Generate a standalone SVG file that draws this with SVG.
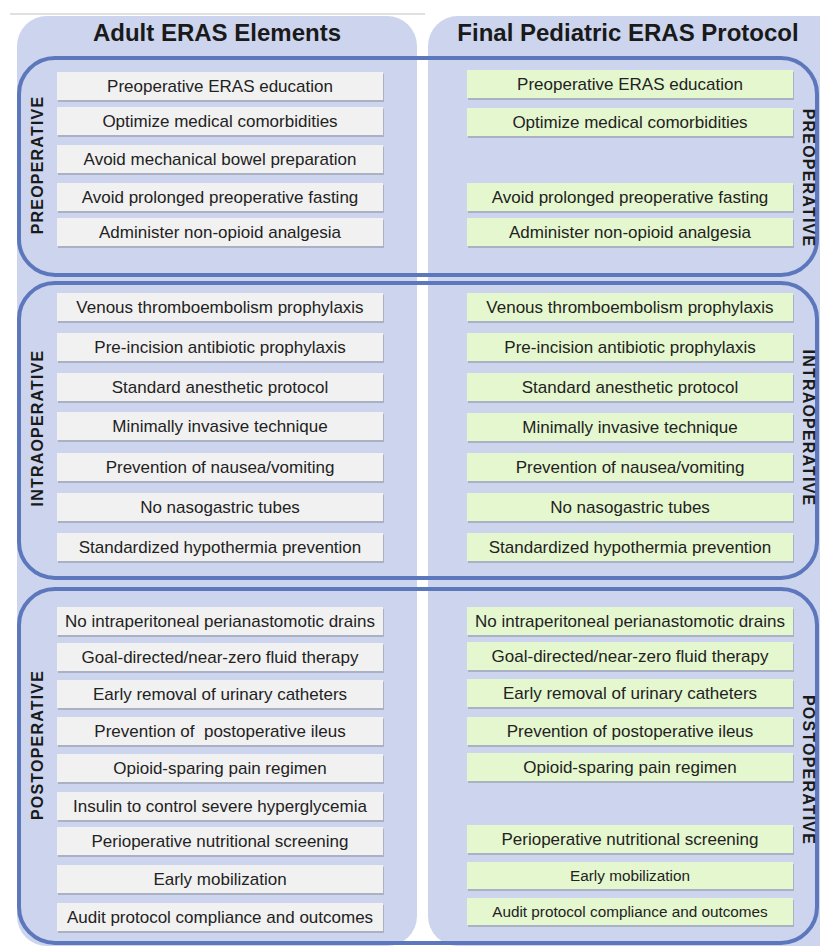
<svg xmlns="http://www.w3.org/2000/svg" width="820" height="948" viewBox="0 0 820 948">
<defs>
<style>
.col{fill:#ccd5ed;}
.band{fill:none;stroke:#5d77bd;stroke-width:4;}
.sh{fill:#8d93a0;opacity:0.55;}
.bl{fill:#f1f1f1;}
.bg{fill:#e5f7cf;}
.t{font-family:"Liberation Sans",Arial,sans-serif;font-size:17px;fill:#222;text-anchor:middle;}
.ts{font-size:15.3px;}
.h{font-family:"Liberation Sans",Arial,sans-serif;font-size:24px;font-weight:bold;fill:#1a1a1a;text-anchor:middle;}
.v{font-family:"Liberation Sans",Arial,sans-serif;font-size:16px;font-weight:bold;fill:#1a1a1a;text-anchor:middle;letter-spacing:1.2px;}
</style>
</defs>
<rect width="820" height="948" fill="#ffffff"/>
<line x1="10" y1="14" x2="425" y2="14" stroke="#d6d6d6" stroke-width="1.5"/>
<g id="columns">
<rect class="col" x="17" y="16" width="400" height="930" rx="30"/>
<rect class="col" x="428" y="16" width="420" height="930" rx="30"/>
</g>
<g id="headers">
<text class="h" x="217" y="41">Adult ERAS Elements</text>
<text class="h" x="628" y="41">Final Pediatric ERAS Protocol</text>
</g>
<g id="bands">
<rect class="band" x="19" y="58" width="798" height="217" rx="36"/>
<rect class="band" x="19" y="283" width="798" height="295" rx="36"/>
<rect class="band" x="19" y="589" width="798" height="354" rx="36"/>
</g>
<g id="phase-labels">
<text class="v" transform="translate(43,165) rotate(-90)">PREOPERATIVE</text>
<text class="v" transform="translate(43,428) rotate(-90)">INTRAOPERATIVE</text>
<text class="v" transform="translate(43,745) rotate(-90)">POSTOPERATIVE</text>
<text class="v" transform="translate(803,178) rotate(90)">PREOPERATIVE</text>
<text class="v" transform="translate(803,428) rotate(90)">INTRAOPERATIVE</text>
<text class="v" transform="translate(803,770) rotate(90)">POSTOPERATIVE</text>
</g>
<g id="adult-pre">
<g id="a1"><rect class="sh" x="58" y="74" width="326" height="28"/><rect class="bl" x="57" y="72" width="326" height="28"/><text class="t" x="220" y="92">Preoperative ERAS education</text></g>
<g id="a2"><rect class="sh" x="58" y="109" width="326" height="28"/><rect class="bl" x="57" y="107" width="326" height="28"/><text class="t" x="220" y="127">Optimize medical comorbidities</text></g>
<g id="a3"><rect class="sh" x="58" y="147" width="326" height="28"/><rect class="bl" x="57" y="145" width="326" height="28"/><text class="t" x="220" y="165">Avoid mechanical bowel preparation</text></g>
<g id="a4"><rect class="sh" x="58" y="185" width="326" height="28"/><rect class="bl" x="57" y="183" width="326" height="28"/><text class="t" x="220" y="203">Avoid prolonged preoperative fasting</text></g>
<g id="a5"><rect class="sh" x="58" y="220" width="326" height="28"/><rect class="bl" x="57" y="218" width="326" height="28"/><text class="t" x="220" y="238">Administer non-opioid analgesia</text></g>
</g>
<g id="adult-intra">
<g id="a6"><rect class="sh" x="58" y="295" width="326" height="28"/><rect class="bl" x="57" y="293" width="326" height="28"/><text class="t" x="220" y="313">Venous thromboembolism prophylaxis</text></g>
<g id="a7"><rect class="sh" x="58" y="335" width="326" height="28"/><rect class="bl" x="57" y="333" width="326" height="28"/><text class="t" x="220" y="353">Pre-incision antibiotic prophylaxis</text></g>
<g id="a8"><rect class="sh" x="58" y="375" width="326" height="28"/><rect class="bl" x="57" y="373" width="326" height="28"/><text class="t" x="220" y="393">Standard anesthetic protocol</text></g>
<g id="a9"><rect class="sh" x="58" y="414" width="326" height="28"/><rect class="bl" x="57" y="412" width="326" height="28"/><text class="t" x="220" y="432">Minimally invasive technique</text></g>
<g id="a10"><rect class="sh" x="58" y="455" width="326" height="28"/><rect class="bl" x="57" y="453" width="326" height="28"/><text class="t" x="220" y="473">Prevention of nausea/vomiting</text></g>
<g id="a11"><rect class="sh" x="58" y="495" width="326" height="28"/><rect class="bl" x="57" y="493" width="326" height="28"/><text class="t" x="220" y="513">No nasogastric tubes</text></g>
<g id="a12"><rect class="sh" x="58" y="535" width="326" height="28"/><rect class="bl" x="57" y="533" width="326" height="28"/><text class="t" x="220" y="553">Standardized hypothermia prevention</text></g>
</g>
<g id="adult-post">
<g id="a13"><rect class="sh" x="58" y="609" width="326" height="28"/><rect class="bl" x="57" y="607" width="326" height="28"/><text class="t" x="220" y="627">No intraperitoneal perianastomotic drains</text></g>
<g id="a14"><rect class="sh" x="58" y="645" width="326" height="28"/><rect class="bl" x="57" y="643" width="326" height="28"/><text class="t" x="220" y="663">Goal-directed/near-zero fluid therapy</text></g>
<g id="a15"><rect class="sh" x="58" y="682" width="326" height="28"/><rect class="bl" x="57" y="680" width="326" height="28"/><text class="t" x="220" y="700">Early removal of urinary catheters</text></g>
<g id="a16"><rect class="sh" x="58" y="719" width="326" height="28"/><rect class="bl" x="57" y="717" width="326" height="28"/><text class="t" x="220" y="737" xml:space="preserve">Prevention of  postoperative ileus</text></g>
<g id="a17"><rect class="sh" x="58" y="756" width="326" height="28"/><rect class="bl" x="57" y="754" width="326" height="28"/><text class="t" x="220" y="774">Opioid-sparing pain regimen</text></g>
<g id="a18"><rect class="sh" x="58" y="794" width="326" height="28"/><rect class="bl" x="57" y="792" width="326" height="28"/><text class="t" x="220" y="812">Insulin to control severe hyperglycemia</text></g>
<g id="a19"><rect class="sh" x="58" y="829" width="326" height="28"/><rect class="bl" x="57" y="827" width="326" height="28"/><text class="t" x="220" y="847">Perioperative nutritional screening</text></g>
<g id="a20"><rect class="sh" x="58" y="867" width="326" height="28"/><rect class="bl" x="57" y="865" width="326" height="28"/><text class="t" x="220" y="885">Early mobilization</text></g>
<g id="a21"><rect class="sh" x="58" y="905" width="326" height="28"/><rect class="bl" x="57" y="903" width="326" height="28"/><text class="t" x="220" y="923">Audit protocol compliance and outcomes</text></g>
</g>
<g id="peds-pre">
<g id="p1"><rect class="sh" x="468" y="72" width="326" height="28"/><rect class="bg" x="467" y="70" width="326" height="28"/><text class="t" x="630" y="90">Preoperative ERAS education</text></g>
<g id="p2"><rect class="sh" x="468" y="110" width="326" height="28"/><rect class="bg" x="467" y="108" width="326" height="28"/><text class="t" x="630" y="128">Optimize medical comorbidities</text></g>
<g id="p3"><rect class="sh" x="468" y="185" width="326" height="28"/><rect class="bg" x="467" y="183" width="326" height="28"/><text class="t" x="630" y="203">Avoid prolonged preoperative fasting</text></g>
<g id="p4"><rect class="sh" x="468" y="220" width="326" height="28"/><rect class="bg" x="467" y="218" width="326" height="28"/><text class="t" x="630" y="238">Administer non-opioid analgesia</text></g>
</g>
<g id="peds-intra">
<g id="p5"><rect class="sh" x="468" y="295" width="326" height="28"/><rect class="bg" x="467" y="293" width="326" height="28"/><text class="t" x="630" y="313">Venous thromboembolism prophylaxis</text></g>
<g id="p6"><rect class="sh" x="468" y="335" width="326" height="28"/><rect class="bg" x="467" y="333" width="326" height="28"/><text class="t" x="630" y="353">Pre-incision antibiotic prophylaxis</text></g>
<g id="p7"><rect class="sh" x="468" y="375" width="326" height="28"/><rect class="bg" x="467" y="373" width="326" height="28"/><text class="t" x="630" y="393">Standard anesthetic protocol</text></g>
<g id="p8"><rect class="sh" x="468" y="415" width="326" height="28"/><rect class="bg" x="467" y="413" width="326" height="28"/><text class="t" x="630" y="433">Minimally invasive technique</text></g>
<g id="p9"><rect class="sh" x="468" y="455" width="326" height="28"/><rect class="bg" x="467" y="453" width="326" height="28"/><text class="t" x="630" y="473">Prevention of nausea/vomiting</text></g>
<g id="p10"><rect class="sh" x="468" y="495" width="326" height="28"/><rect class="bg" x="467" y="493" width="326" height="28"/><text class="t" x="630" y="513">No nasogastric tubes</text></g>
<g id="p11"><rect class="sh" x="468" y="535" width="326" height="28"/><rect class="bg" x="467" y="533" width="326" height="28"/><text class="t" x="630" y="553">Standardized hypothermia prevention</text></g>
</g>
<g id="peds-post">
<g id="p12"><rect class="sh" x="468" y="609" width="326" height="28"/><rect class="bg" x="467" y="607" width="326" height="28"/><text class="t" x="630" y="627">No intraperitoneal perianastomotic drains</text></g>
<g id="p13"><rect class="sh" x="468" y="644" width="326" height="28"/><rect class="bg" x="467" y="642" width="326" height="28"/><text class="t" x="630" y="662">Goal-directed/near-zero fluid therapy</text></g>
<g id="p14"><rect class="sh" x="468" y="681" width="326" height="28"/><rect class="bg" x="467" y="679" width="326" height="28"/><text class="t" x="630" y="699">Early removal of urinary catheters</text></g>
<g id="p15"><rect class="sh" x="468" y="719" width="326" height="28"/><rect class="bg" x="467" y="717" width="326" height="28"/><text class="t" x="630" y="737">Prevention of postoperative ileus</text></g>
<g id="p16"><rect class="sh" x="468" y="755" width="326" height="28"/><rect class="bg" x="467" y="753" width="326" height="28"/><text class="t" x="630" y="773">Opioid-sparing pain regimen</text></g>
<g id="p17"><rect class="sh" x="468" y="827" width="326" height="28"/><rect class="bg" x="467" y="825" width="326" height="28"/><text class="t" x="630" y="845">Perioperative nutritional screening</text></g>
<g id="p18"><rect class="sh" x="468" y="864" width="326" height="27"/><rect class="bg" x="467" y="862" width="326" height="27"/><text class="t ts" x="630" y="881">Early mobilization</text></g>
<g id="p19"><rect class="sh" x="468" y="900" width="326" height="27"/><rect class="bg" x="467" y="898" width="326" height="27"/><text class="t ts" x="630" y="917">Audit protocol compliance and outcomes</text></g>
</g>
</svg>
